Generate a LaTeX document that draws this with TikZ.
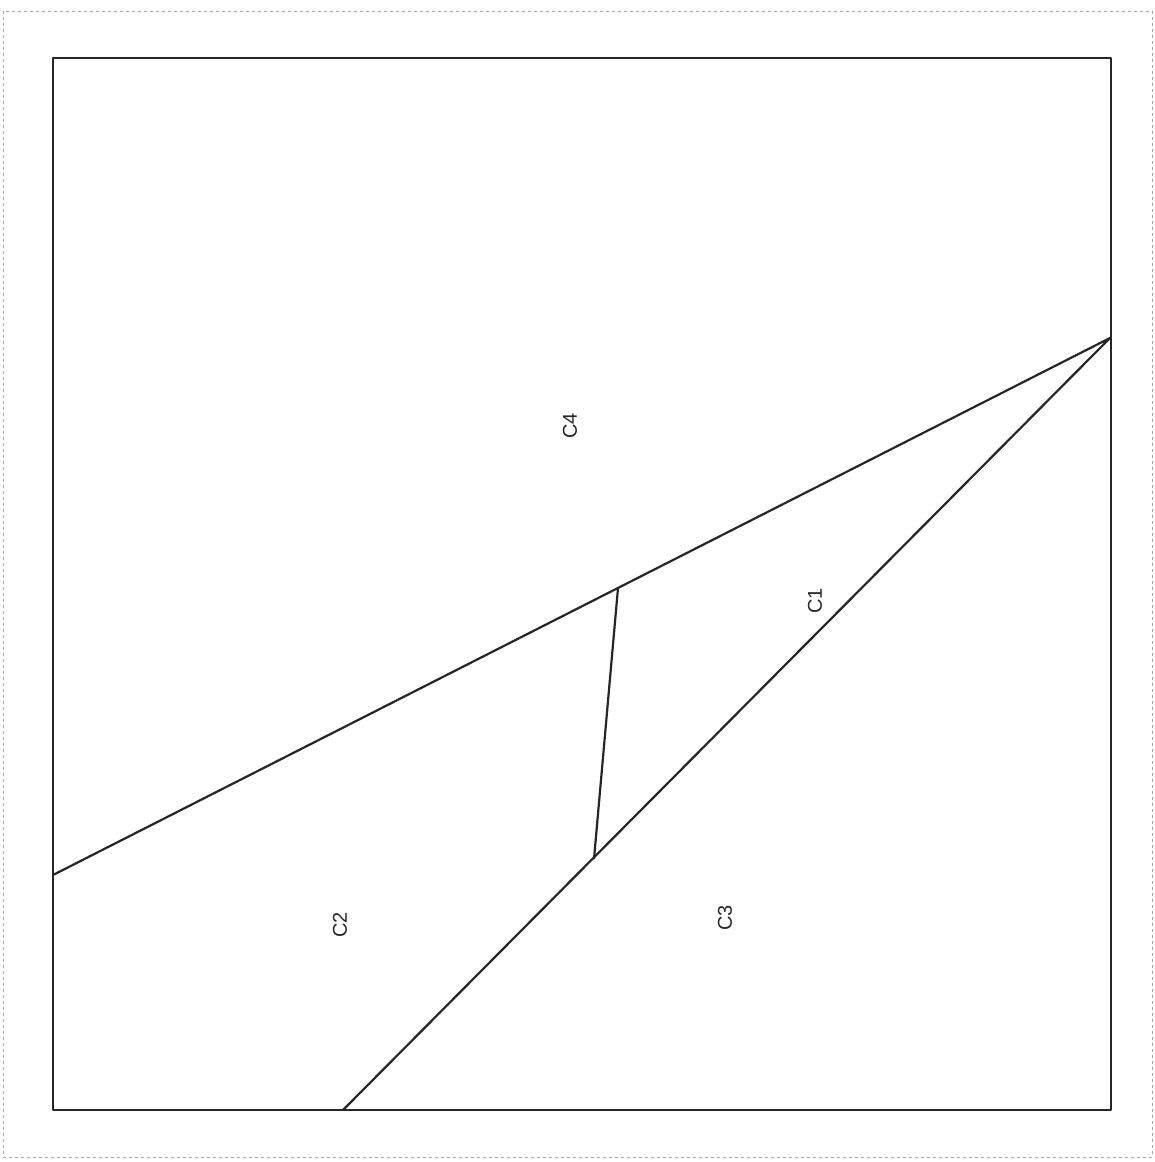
\documentclass[tikz,border=0pt]{standalone}
\usepackage{fontspec}
\setmainfont{Liberation Sans}
\usetikzlibrary{calc}

\begin{document}
\begin{tikzpicture}[x=1pt,y=-1pt,edge/.style={line width=2.2pt,black!85,line join=round},region/.style={rotate=90,font=\fontsize{20}{24}\selectfont,text=black!85}]
\useasboundingbox (0,0) rectangle (1155,1162);
\draw[dashed,black!35,line width=0.8pt] (3,11) rectangle (1152,1157);
\draw[edge] (53,58) rectangle (1111,1110);
\coordinate (apex) at (1110,338);
\coordinate (left) at (53,875);
\coordinate (bottom) at (343,1110);
\coordinate (top) at (618,588);
\coordinate (mid) at (594,859);
\draw[edge] (left) -- (apex) -- (bottom);
\draw[edge] (top) -- (mid);
\node[region] (c4) at (570,426) {C4};
\node[region] (c1) at (815,601) {C1};
\node[region] (c2) at (340,925) {C2};
\node[region] (c3) at (725,918) {C3};
\end{tikzpicture}
\end{document}
